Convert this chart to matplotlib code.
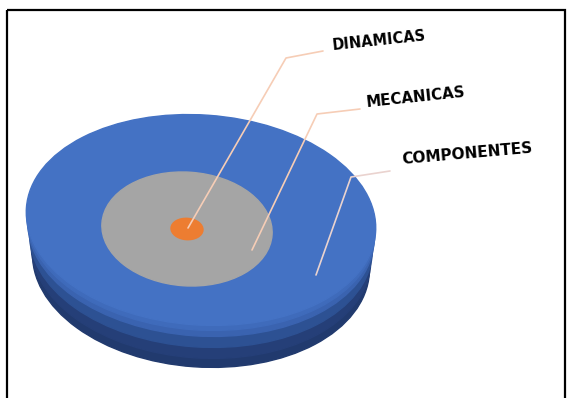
import matplotlib.pyplot as plt
from matplotlib.patches import Ellipse, Rectangle

# datos: niveles concentricos (de dentro hacia fuera)
categorias = ['DINAMICAS', 'MECANICAS', 'COMPONENTES']
radio_relativo = [0.092, 0.49, 1.0]
colores = ['#ED7D31', '#A5A5A5', '#4472C4']

# geometria del disco (pixeles)
cx, cy = 201, 220
rx, ry = 175, 105
centro_int = (187, 229)
rx_int, ry_int = 174, 116
giro = 4

fig = plt.figure(figsize=(5.71, 3.98), dpi=100)
ax = fig.add_axes([0, 0, 1, 1])
ax.set_xlim(0, 571)
ax.set_ylim(398, 0)
ax.axis('off')

# marco
ax.add_patch(Rectangle((7, 10), 558, 400, fill=False, ec='black', lw=1.6))

# lateral y bisel del disco 3D
capas = [(42, '#213A6E'), (33, '#253F78'), (22, '#2D5193'), (11, '#3A63B0'), (5, '#3F6BBB')]
for dy, col in capas:
    ax.add_patch(Ellipse((cx, cy + dy), 2 * rx - dy * 0.3, 2 * ry, angle=giro, color=col))

# caras superiores
for i in range(len(categorias) - 1, -1, -1):
    r = radio_relativo[i]
    if r == 1.0:
        ax.add_patch(Ellipse((cx, cy), 2 * rx, 2 * ry, angle=giro, color=colores[i]))
    else:
        ax.add_patch(Ellipse(centro_int, 2 * rx_int * r, 2 * ry_int * r, angle=giro,
                             color=colores[i]))

# lineas guia y etiquetas
guias = {
    'DINAMICAS': [(188, 228), (286, 58), (323, 51)],
    'MECANICAS': [(252, 250), (317, 114), (360, 109)],
    'COMPONENTES': [(316, 275), (351, 177), (390, 171)],
}
col_guia = {'DINAMICAS': '#F6CDB6', 'MECANICAS': '#F6CDB6', 'COMPONENTES': '#EAD3CF'}
textos = {
    'DINAMICAS': (332, 46, 10.5, 6),
    'MECANICAS': (366, 103, 10.8, 6),
    'COMPONENTES': (402, 160, 11, 5),
}
for cat in categorias:
    xs = [p[0] for p in guias[cat]]
    ys = [p[1] for p in guias[cat]]
    ax.plot(xs, ys, color=col_guia[cat], lw=1.2, solid_capstyle='round')
    tx, ty, fs, rot = textos[cat]
    ax.text(tx, ty, cat, fontsize=fs, fontweight='heavy', color='black',
            rotation=rot, rotation_mode='anchor', ha='left', va='center')

fig.savefig('out.png', dpi=100)
